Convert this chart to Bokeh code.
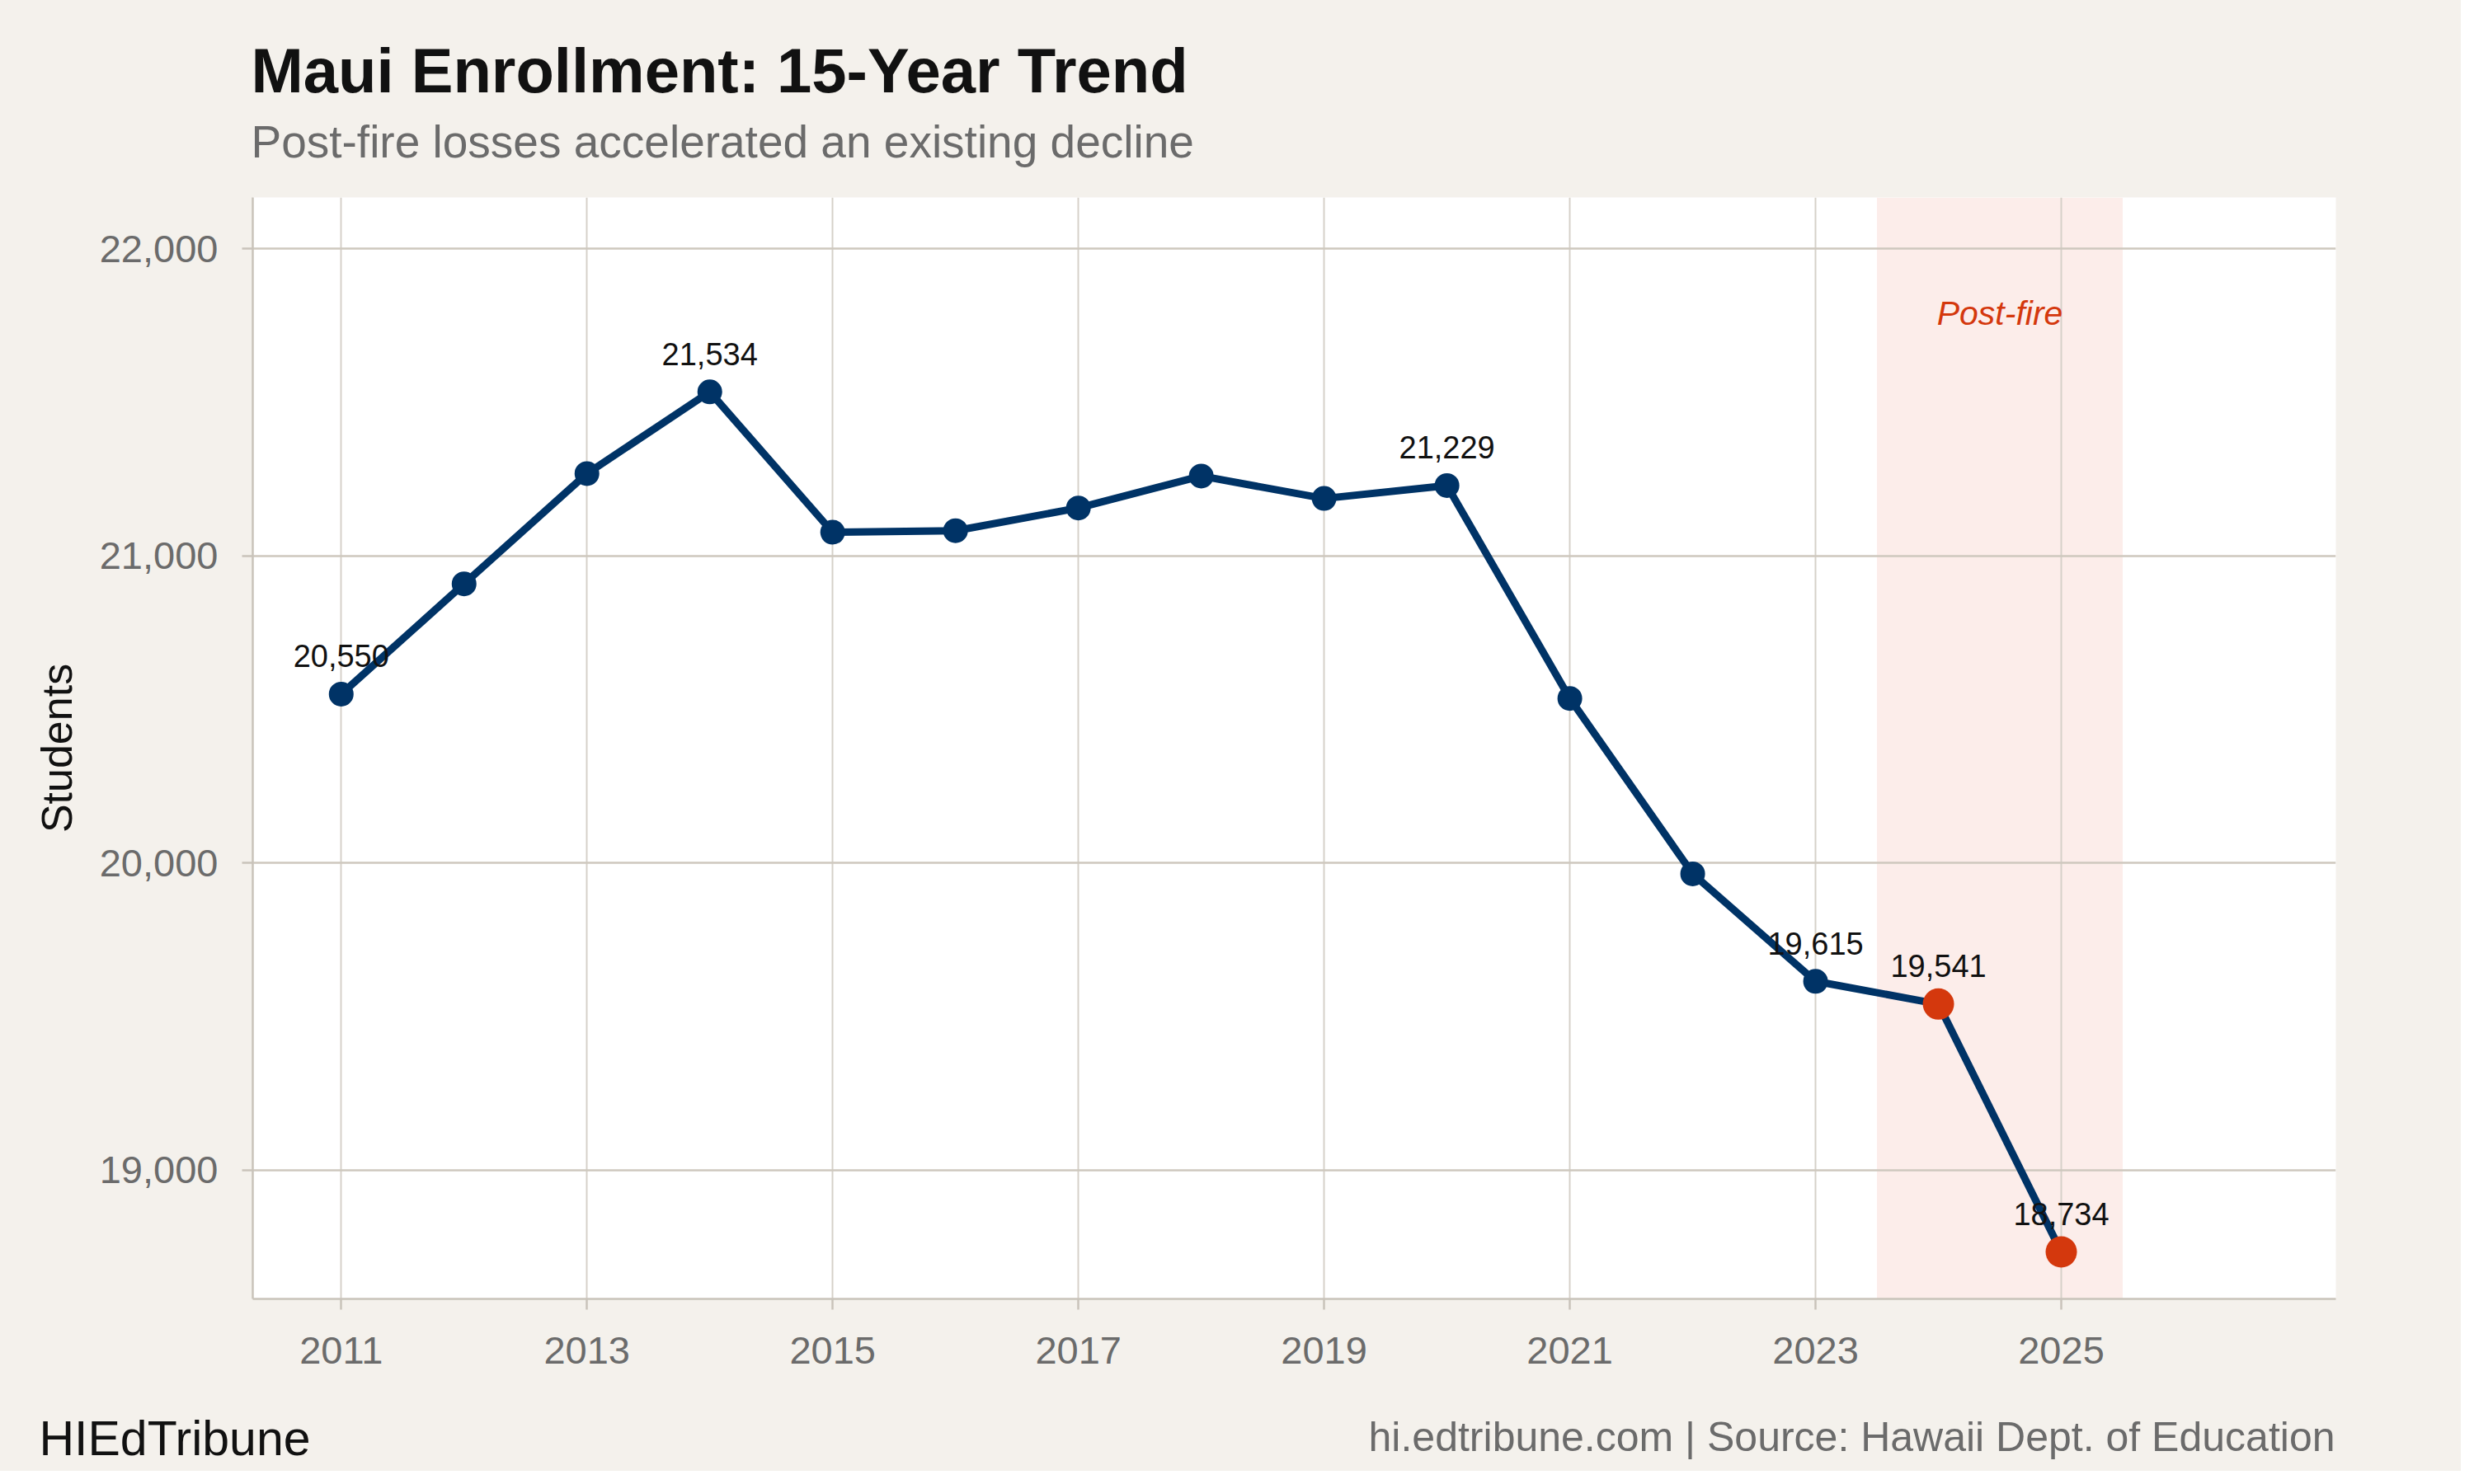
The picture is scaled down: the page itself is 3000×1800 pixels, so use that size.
from bokeh.plotting import figure
from bokeh.layouts import column
from bokeh.models import Range1d, Label, NumeralTickFormatter, FixedTicker, BoxAnnotation
from bokeh.embed import file_html
from bokeh.resources import INLINE
from bokeh.core.properties import value

# ---- data ----
years = [2011, 2012, 2013, 2014, 2015, 2016, 2017, 2018, 2019, 2020, 2021, 2022, 2023, 2024, 2025]
students = [20550, 20909, 21268, 21534, 21077, 21082, 21156, 21260, 21187, 21229, 20536, 19965, 19615, 19541, 18734]
labeled_years = [2011, 2014, 2020, 2023, 2024, 2025]
post_fire_years = [2024, 2025]
x_ticks = [2011, 2013, 2015, 2017, 2019, 2021, 2023, 2025]
y_ticks = [19000, 20000, 21000, 22000]
band_start, band_end = 2023.5, 2025.5
title_text = "Maui Enrollment: 15-Year Trend"
subtitle_text = "Post-fire losses accelerated an existing decline"
band_text = "Post-fire"
footer_left = "HIEdTribune"
footer_right = "hi.edtribune.com | Source: Hawaii Dept. of Education"
y_label = "Students"

# ---- style ----
FONT = "Liberation Sans"
NAVY = "#003366"
RED = "#D4380D"
BG = "#F4F1EC"
GRID = "#CEC8BE"
GRAY_TXT = "#6B6B6B"
INK = "#111111"

W = 2984
HEAD_H = 220
FOOT_H = 94
ML, MT = 306, 19
FW, FH = 2526, 1336
MR = W - ML - FW
MB = 115
MAIN_H = MT + FH + MB


def blank_panel(h, y0, y1):
    f = figure(width=W, height=h, output_backend="svg", toolbar_location=None,
               x_range=Range1d(0, W), y_range=Range1d(y1, y0),
               min_border=0, min_border_left=0, min_border_right=0,
               min_border_top=0, min_border_bottom=0,
               background_fill_color=BG, border_fill_color=BG,
               x_axis_location=None, y_axis_location=None)
    f.frame_align = False
    f.outline_line_color = None
    f.grid.visible = False
    return f


# ---- header ----
head = blank_panel(HEAD_H, 0, HEAD_H)
head.text([304], [85], text=[title_text], text_font=value(FONT), text_font_size="76px",
          text_font_style="bold", text_color=INK, text_baseline="alphabetic", text_align="left")
head.text([304], [171], text=[subtitle_text], text_font=value(FONT), text_font_size="55px",
          text_color=GRAY_TXT, text_baseline="alphabetic", text_align="left")

# ---- main plot ----
p = figure(width=W, height=MAIN_H, output_backend="svg", toolbar_location=None,
           x_range=Range1d(2010.28, 2027.235), y_range=Range1d(18581, 22167),
           min_border_left=ML, min_border_right=MR, min_border_top=MT, min_border_bottom=MB,
           background_fill_color="white", border_fill_color=BG)
p.frame_align = False
p.outline_line_color = None

band = BoxAnnotation(left=band_start, right=band_end, fill_color="#FCEDEA", fill_alpha=1.0,
                     line_color=None, level="image")
p.add_layout(band)

p.line(years, students, line_width=9, line_color=NAVY, line_join="round")
p.scatter(years, students, size=30, fill_color=NAVY, line_color=None)
pf_vals = [students[years.index(y)] for y in post_fire_years]
p.scatter(post_fire_years, pf_vals, size=38, fill_color=RED, line_color=None)

lab_vals = [students[years.index(y)] for y in labeled_years]
p.text(labeled_years, lab_vals, text=[f"{v:,}" for v in lab_vals],
       text_align="center", text_baseline="alphabetic", y_offset=-46,
       text_font=value(FONT), text_font_size="38px", text_color=INK)

p.add_layout(Label(x=(band_start + band_end) / 2, y=21789, text=band_text,
                   text_align="center", text_baseline="middle",
                   text_font=FONT, text_font_size="41px", text_font_style="italic",
                   text_color=RED))

for ax in (p.xaxis[0], p.yaxis[0]):
    ax.axis_line_color = "#C9C3BA"
    ax.axis_line_width = 2.5
    ax.major_tick_line_color = "#C9C3BA"
    ax.major_tick_line_width = 2.5
    ax.major_tick_out = 13
    ax.major_tick_in = 0
    ax.minor_tick_line_color = None
    ax.major_label_text_font = FONT
    ax.major_label_text_font_size = "47px"
    ax.major_label_text_color = GRAY_TXT

p.xaxis.ticker = FixedTicker(ticks=x_ticks)
p.yaxis.ticker = FixedTicker(ticks=y_ticks)
p.yaxis.formatter = NumeralTickFormatter(format="0,0")
p.xaxis.major_label_standoff = 33
p.yaxis.major_label_standoff = 29
p.yaxis.axis_label = y_label
p.yaxis.axis_label_text_font = FONT
p.yaxis.axis_label_text_font_size = "52px"
p.yaxis.axis_label_text_font_style = "normal"
p.yaxis.axis_label_text_color = INK
p.yaxis.axis_label_standoff = 20

p.xgrid.grid_line_color = "#D6D1C9"
p.xgrid.grid_line_width = 2
p.ygrid.grid_line_color = GRID
p.ygrid.grid_line_width = 2.5

# ---- footer ----
foot_y0 = HEAD_H + MAIN_H
foot = blank_panel(FOOT_H, foot_y0, foot_y0 + FOOT_H)
foot.text([47], [1744], text=[footer_left], text_font=value(FONT), text_font_size="59px",
          text_color=INK, text_baseline="alphabetic", text_align="left")
foot.text([2831], [1742], text=[footer_right], text_font=value(FONT), text_font_size="50px",
          text_color=GRAY_TXT, text_baseline="alphabetic", text_align="right")

layout = column(head, p, foot, spacing=0, styles={"background-color": BG})
open("out.html", "w").write(file_html(layout, INLINE))
